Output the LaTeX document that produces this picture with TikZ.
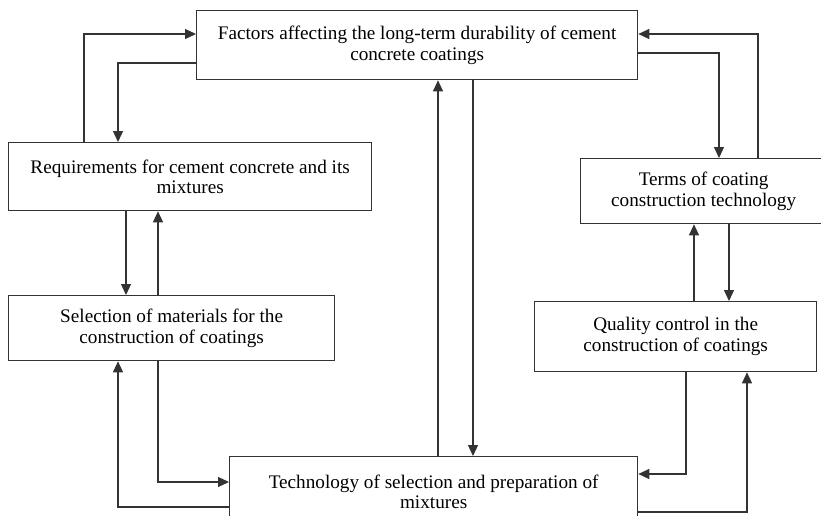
\documentclass[tikz,border=0pt]{standalone}
\usepackage{fontspec}
\setmainfont{Liberation Serif}
\usetikzlibrary{positioning,arrows.meta,calc}
\tikzset{%
  arrow/.style    = { -{Triangle[length=11pt, width=10pt]}, line width = 1.2pt, draw = #1 },
  tbox/.style     = { fill = white, draw = #1, line width = 1.3pt, align = center, anchor = north west,
    inner sep = 0pt, font = \fontsize{19.2}{20.5}\selectfont },
}
\newcommand{\colorl}{black!80}

\begin{document}
\begin{tikzpicture}[x=1pt, y=-1pt]
    \useasboundingbox (0,0) rectangle (821,515);
    \clip (0,0) rectangle (821,515);
    % nodes ----------------------------------------------------------------------------------------
    % main node
    \node(fac)   [tbox=\colorl, minimum width=441pt, minimum height=69pt] at (196,10)
      {Factors affecting the long-term durability of cement\\concrete coatings};
    % left column
    \node(req)   [tbox=\colorl, minimum width=363pt, minimum height=68pt] at (8,142)
      {Requirements for cement concrete and its\\mixtures};
    \node(sel)   [tbox=\colorl, minimum width=326pt, minimum height=65pt] at (8,295)
      {Selection of materials for the\\construction of coatings};
    % right column
    \node(terms) [tbox=\colorl, minimum width=246pt, minimum height=65pt] at (580,158)
      {Terms of coating\\construction technology};
    \node(qual)  [tbox=\colorl, minimum width=282pt, minimum height=70pt] at (534,301)
      {Quality control in the\\construction of coatings};
    % bottom node
    \node(tech)  [tbox=\colorl, minimum width=408pt, minimum height=70pt] at (229,456)
      {Technology of selection and preparation of\\mixtures};
    % arrows ---------------------------------------------------------------------------------------
    % top <-> requirements
    \draw[arrow=\colorl] ([xshift=76pt]req.north west) |- ([yshift=-24pt]fac.north west);
    \draw[arrow=\colorl] ([yshift=-53pt]fac.north west) -| ([xshift=110pt]req.north west);
    % requirements <-> selection
    \draw[arrow=\colorl] ([xshift=118pt]req.south west) -- ([xshift=118pt]sel.north west);
    \draw[arrow=\colorl] ([xshift=150pt]sel.north west) -- ([xshift=150pt]req.south west);
    % selection <-> technology
    \draw[arrow=\colorl] ([xshift=150pt]sel.south west) |- ([yshift=-26pt]tech.north west);
    \draw[arrow=\colorl] ([yshift=-51pt]tech.north west) -| ([xshift=110pt]sel.south west);
    % top <-> technology
    \draw[arrow=\colorl] ([xshift=209pt]tech.north west) -- ([xshift=242pt]fac.south west);
    \draw[arrow=\colorl] ([xshift=277pt]fac.south west) -- ([xshift=244pt]tech.north west);
    % top <-> terms
    \draw[arrow=\colorl] ([yshift=-43pt]fac.north east) -| ([xshift=139pt]terms.north west);
    \draw[arrow=\colorl] ([xshift=178pt]terms.north west) |- ([yshift=-24pt]fac.north east);
    % terms <-> quality
    \draw[arrow=\colorl] ([xshift=160pt]qual.north west) -- ([xshift=114pt]terms.south west);
    \draw[arrow=\colorl] ([xshift=149pt]terms.south west) -- ([xshift=195pt]qual.north west);
    % quality <-> technology
    \draw[arrow=\colorl] ([xshift=152pt]qual.south west) |- ([yshift=-18pt]tech.north east);
    \draw[arrow=\colorl] ([yshift=-56pt]tech.north east) -| ([xshift=213pt]qual.south west);
\end{tikzpicture}
\end{document}
